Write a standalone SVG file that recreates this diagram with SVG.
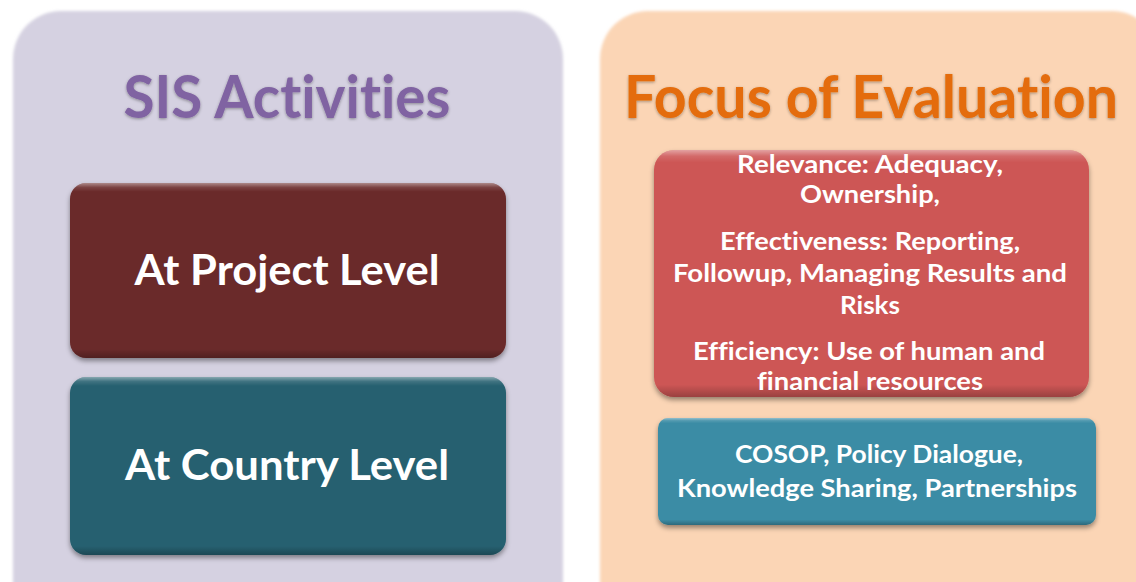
<svg xmlns="http://www.w3.org/2000/svg" width="1136" height="582" viewBox="0 0 1136 582">
<defs>
<style>
text{font-variant-ligatures:none;font-feature-settings:"liga" 0}
.title{font-family:Lato,"Open Sans",sans-serif;font-weight:bold;font-size:54px;text-anchor:middle}
.big{font-family:Lato,"Open Sans",sans-serif;font-weight:bold;font-size:42px;fill:#ffffff;text-anchor:middle}
.small{font-family:Lato,"Open Sans",sans-serif;font-weight:bold;font-size:24px;fill:#ffffff;text-anchor:middle}
</style>
<linearGradient id="bevel" x1="0" y1="0" x2="0" y2="1">
<stop offset="0" stop-color="#ffffff" stop-opacity="0.45"/>
<stop offset="0.025" stop-color="#ffffff" stop-opacity="0.12"/>
<stop offset="0.05" stop-color="#ffffff" stop-opacity="0"/>
<stop offset="0.95" stop-color="#000000" stop-opacity="0"/>
<stop offset="1" stop-color="#000000" stop-opacity="0.25"/>
</linearGradient>
<filter id="shadow" x="-10%" y="-10%" width="120%" height="130%">
<feDropShadow dx="0" dy="3" stdDeviation="2.5" flood-color="#000" flood-opacity="0.4"/>
</filter>
<filter id="pshadow" x="-10%" y="-10%" width="120%" height="130%">
<feGaussianBlur stdDeviation="1.5"/>
</filter>
<filter id="tshadow" x="-1%" y="-15%" width="102%" height="135%">
<feDropShadow dx="0" dy="1" stdDeviation="1.5" flood-color="#000" flood-opacity="0.35"/>
</filter>
</defs>

<rect width="1136" height="582" fill="#ffffff"/>

<g id="panel-left">
<rect x="13" y="11" width="550" height="620" rx="48" fill="#d5d1e1" filter="url(#pshadow)"/>
<text class="title" transform="translate(287,118) scale(1,1.11)" x="0" y="0" fill="#8064a2" textLength="327" lengthAdjust="spacingAndGlyphs" filter="url(#tshadow)">SIS Activities</text>
</g>

<g id="panel-right">
<rect x="600" y="11" width="560" height="620" rx="48" fill="#fbd5b5" filter="url(#pshadow)"/>
<text class="title" transform="translate(871,118) scale(1,1.11)" x="0" y="0" fill="#e46c0a" textLength="494" lengthAdjust="spacingAndGlyphs" filter="url(#tshadow)">Focus of Evaluation</text>
</g>

<g id="project-level">
<rect x="70" y="183" width="436" height="175" rx="16" fill="#6b2a2a" filter="url(#shadow)"/>
<rect x="70" y="183" width="436" height="175" rx="16" fill="url(#bevel)"/>
<text class="big" x="287" y="285" textLength="305" lengthAdjust="spacingAndGlyphs">At Project Level</text>
</g>

<g id="country-level">
<rect x="70" y="377" width="436" height="178" rx="16" fill="#266070" filter="url(#shadow)"/>
<rect x="70" y="377" width="436" height="178" rx="16" fill="url(#bevel)"/>
<text class="big" x="287" y="480" textLength="324" lengthAdjust="spacingAndGlyphs">At Country Level</text>
</g>

<g id="project-focus">
<rect x="654" y="150" width="435" height="247" rx="20" fill="#cd5654" filter="url(#shadow)"/>
<rect x="654" y="150" width="435" height="247" rx="20" fill="url(#bevel)"/>
<text class="small" x="870" y="173" textLength="266" lengthAdjust="spacingAndGlyphs">Relevance: Adequacy,</text>
<text class="small" x="870" y="203" textLength="140" lengthAdjust="spacingAndGlyphs">Ownership,</text>
<text class="small" x="870" y="250" textLength="300" lengthAdjust="spacingAndGlyphs">Effectiveness: Reporting,</text>
<text class="small" x="870" y="282" textLength="394" lengthAdjust="spacingAndGlyphs">Followup, Managing Results and</text>
<text class="small" x="870" y="314" textLength="60" lengthAdjust="spacingAndGlyphs">Risks</text>
<text class="small" x="869" y="360" textLength="352" lengthAdjust="spacingAndGlyphs">Efficiency: Use of human and</text>
<text class="small" x="870" y="390" textLength="226" lengthAdjust="spacingAndGlyphs">financial resources</text>
</g>

<g id="country-focus">
<rect x="658" y="418" width="438" height="107" rx="10" fill="#3a8ca5" filter="url(#shadow)"/>
<rect x="658" y="418" width="438" height="107" rx="10" fill="url(#bevel)"/>
<text class="small" x="879" y="463" textLength="288" lengthAdjust="spacingAndGlyphs">COSOP, Policy Dialogue,</text>
<text class="small" x="877" y="497" textLength="400" lengthAdjust="spacingAndGlyphs">Knowledge Sharing, Partnerships</text>
</g>

<g id="connectors"/>
</svg>
